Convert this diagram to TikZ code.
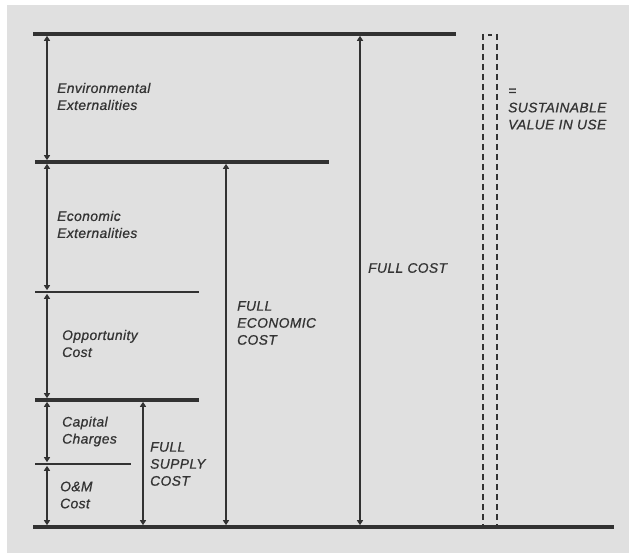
\documentclass[tikz,border=0pt]{standalone}
\usepackage{fontspec}
\setmainfont{Liberation Sans}
\newfontfamily\costfont[LetterSpace=3, FakeBold=0.8]{Liberation Sans}
\usetikzlibrary{arrows.meta}

\definecolor{bggrey}{RGB}{224,224,224}
\definecolor{bardark}{RGB}{50,50,50}
\definecolor{labeldark}{RGB}{52,52,52}

\begin{document}
\begin{tikzpicture}[
    x=1pt, y=-1pt,
    every node/.style={font=\costfont\itshape\fontsize{13.8}{17}\selectfont,
      text=labeldark, inner sep=0pt, align=left, anchor=west},
    bar/.style={draw=bardark, line width=4.2pt},
    thinbar/.style={draw=bardark, line width=2.6pt},
    span/.style={draw=bardark, line width=2.8pt,
      {Triangle[length=5pt, width=6pt]}-{Triangle[length=5pt, width=6pt]},
      shorten <=1.8pt, shorten >=1.8pt},
  ]
  \useasboundingbox (0,0) rectangle (629,553);
  \fill[bggrey] (7,5) rectangle (629,553);

  % levels (left and right end of every bar)
  \coordinate (topL) at (33,34);   \coordinate (topR) at (456,34);
  \coordinate (envL) at (35,162);  \coordinate (envR) at (329,162);
  \coordinate (ecoL) at (35,292);  \coordinate (ecoR) at (199,292);
  \coordinate (oppL) at (35,400);  \coordinate (oppR) at (199,400);
  \coordinate (capL) at (35,464);  \coordinate (capR) at (131,464);
  \coordinate (botL) at (33,527);  \coordinate (botR) at (614,527);

  % columns of the arrows
  \coordinate (colA) at (47,0);
  \coordinate (colS) at (143,0);
  \coordinate (colE) at (226,0);
  \coordinate (colF) at (360,0);

  \draw[bar] (topL) -- (topR);
  \draw[bar] (envL) -- (envR);
  \draw[thinbar] (ecoL) -- (ecoR);
  \draw[bar] (oppL) -- (oppR);
  \draw[thinbar] (capL) -- (capR);
  \draw[bar] (botL) -- (botR);

  \draw[span] (colA |- topL) -- (colA |- envL);
  \draw[span] (colA |- envL) -- (colA |- ecoL);
  \draw[span] (colA |- ecoL) -- (colA |- oppL);
  \draw[span] (colA |- oppL) -- (colA |- capL);
  \draw[span] (colA |- capL) -- (colA |- botL);
  \draw[span] (colS |- oppL) -- (colS |- botL);
  \draw[span] (colE |- envL) -- (colE |- botL);
  \draw[span] (colF |- topL) -- (colF |- botL);

  % sustainable value in use
  \draw[draw=bardark, line width=2.8pt, dash pattern=on 6pt off 4pt]
    (483,34) -- (483,527);
  \draw[draw=bardark, line width=2.8pt, dash pattern=on 6pt off 4pt]
    (497,34) -- (497,527);
  \draw[draw=bardark, line width=2.8pt] (488,35) -- (492,35);

  \node (env) at (57,96.5) {Environmental\\Externalities};
  \node (eco) at (57,224.5) {Economic\\Externalities};
  \node (opp) at (62,343.5) {Opportunity\\Cost};
  \node (cap) at (62,431.5) {Capital\\Charges};
  \node (om)  at (60,495) {O\&M\\Cost};
  \node (fsc) at (150,464) {FULL\\SUPPLY\\COST};
  \node (fec) at (237,323) {FULL\\ECONOMIC\\COST};
  \node (fc)  at (368,268) {FULL COST};
  \node (svu) at (508,109) {=\\SUSTAINABLE\\VALUE IN USE};
\end{tikzpicture}
\end{document}
